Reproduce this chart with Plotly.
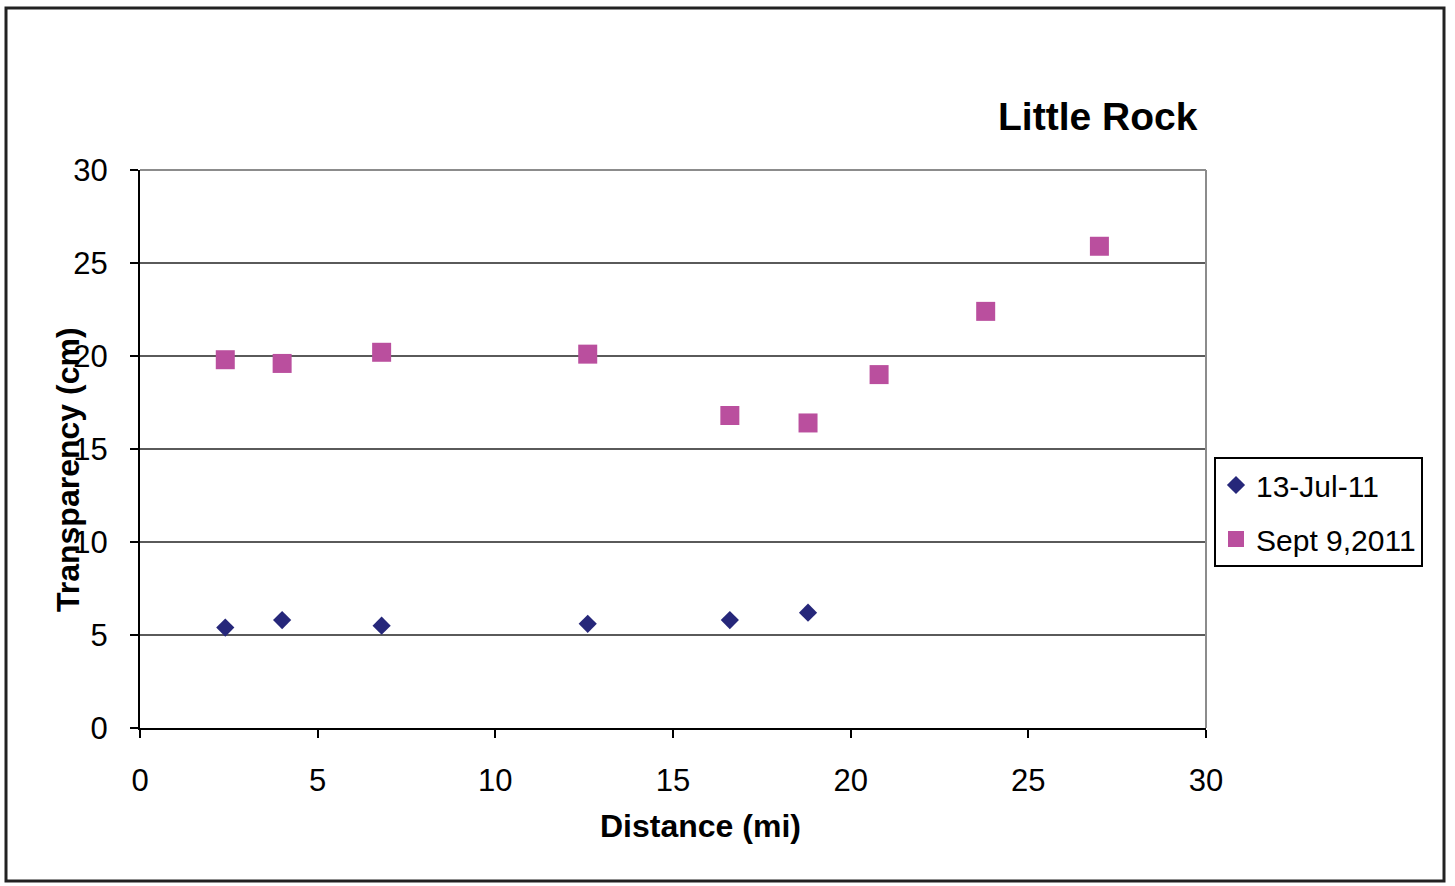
import plotly.graph_objects as go

# Data
distance_jul = [2.4, 4.0, 6.8, 12.6, 16.6, 18.8]
transp_jul = [5.4, 5.8, 5.5, 5.6, 5.8, 6.2]
distance_sep = [2.4, 4.0, 6.8, 12.6, 16.6, 18.8, 20.8, 23.8, 27.0]
transp_sep = [19.8, 19.6, 20.2, 20.1, 16.8, 16.4, 19.0, 22.4, 25.9]
series_names = ["13-Jul-11", "Sept 9,2011"]
tick_vals = [0, 5, 10, 15, 20, 25, 30]

W, H = 1455, 886
L, R, T, B = 140, 1206, 170, 728
pw, ph = R - L, B - T

def px(xp):
    return (xp - L) / pw

def py(yp):
    return (B - yp) / ph

FONT = "Liberation Sans, Arial, sans-serif"

fig = go.Figure()
fig.add_trace(go.Scatter(
    x=distance_jul, y=transp_jul, mode="markers", name=series_names[0],
    legendgroup="a",
    marker=dict(symbol="diamond", size=14, color="#26277A", line=dict(width=0)),
))
fig.add_trace(go.Scatter(
    x=distance_sep, y=transp_sep, mode="markers", name=series_names[1],
    legendgroup="b",
    marker=dict(symbol="square", size=19, color="#BA4F9E", line=dict(width=0)),
))

fig.update_layout(
    width=W, height=H,
    margin=dict(l=L, r=W - R, t=T, b=H - B, pad=0),
    paper_bgcolor="white", plot_bgcolor="white",
    font=dict(family=FONT, size=30, color="black"),
    showlegend=True,
    legend=dict(
        x=px(1214), y=py(457), xanchor="left", yanchor="top",
        bordercolor="black", borderwidth=2, bgcolor="white",
        font=dict(family=FONT, size=30, color="black"),
        tracegroupgap=12, itemwidth=30,
    ),
)

fig.update_xaxes(
    range=[0, 30], tickvals=tick_vals, showgrid=False, zeroline=False,
    showline=True, linecolor="black", linewidth=2, mirror=False,
    ticks="outside", ticklen=8, tickwidth=2, tickcolor="black",
    ticklabelstandoff=16,
    tickfont=dict(family=FONT, size=31, color="black"),
)
fig.update_yaxes(
    range=[0, 30], tickvals=tick_vals, showgrid=True, gridcolor="#5A5A5A",
    gridwidth=2, zeroline=False,
    showline=True, linecolor="black", linewidth=2, mirror=False,
    ticks="outside", ticklen=8, tickwidth=2, tickcolor="black",
    ticklabelstandoff=16,
    tickfont=dict(family=FONT, size=31, color="black"),
)

# Top and right plot border (gray)
fig.add_shape(type="line", xref="paper", yref="paper", x0=0, x1=1, y0=1, y1=1,
              line=dict(color="#8C8C8C", width=2))
fig.add_shape(type="line", xref="paper", yref="paper", x0=1, x1=1, y0=0, y1=1,
              line=dict(color="#8C8C8C", width=2))

# Outer frame
fig.add_shape(type="rect", xref="paper", yref="paper",
              x0=px(6), x1=px(1444), y0=py(881), y1=py(8),
              line=dict(color="#222222", width=3), layer="below")

# Title and axis titles
fig.add_annotation(text="<b>Little Rock</b>", xref="paper", yref="paper",
                   x=px(1098), y=py(117), showarrow=False,
                   xanchor="center", yanchor="middle",
                   font=dict(family=FONT, size=39, color="black"))
fig.add_annotation(text="<b>Distance (mi)</b>", xref="paper", yref="paper",
                   x=px(700), y=py(826), showarrow=False,
                   xanchor="center", yanchor="middle",
                   font=dict(family=FONT, size=32, color="black"))
fig.add_annotation(text="<b>Transparency (cm)</b>", xref="paper", yref="paper",
                   x=px(68), y=py(470), showarrow=False, textangle=-90,
                   xanchor="center", yanchor="middle",
                   font=dict(family=FONT, size=32, color="black"))

fig.write_html("out.html")
